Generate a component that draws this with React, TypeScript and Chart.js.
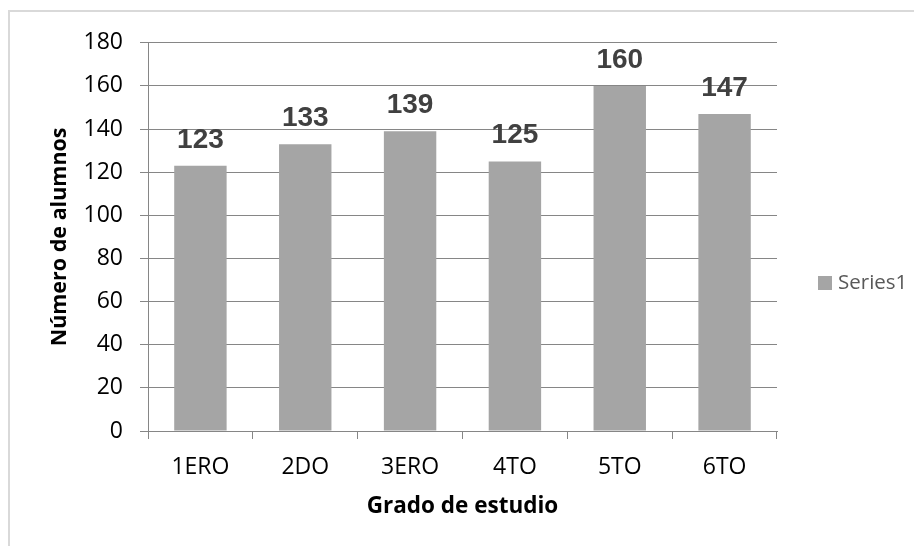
import React, { useEffect, useRef } from 'react';
import { Chart, registerables } from 'chart.js';

Chart.register(...registerables);

const categories = ['1ERO', '2DO', '3ERO', '4TO', '5TO', '6TO'];
const series1 = [123, 133, 139, 125, 160, 147];
const seriesName = 'Series1';
const yMin = 0;
const yMax = 180;
const yStep = 20;
const xTitle = 'Grado de estudio';
const yTitle = 'Número de alumnos';

const GRID = '#868686';
const BAR = '#A5A5A5';

const valueLabels = {
  id: 'valueLabels',
  afterDatasetsDraw(chart: any) {
    const ctx = chart.ctx;
    chart.data.datasets.forEach((ds: any, i: number) => {
      const meta = chart.getDatasetMeta(i);
      meta.data.forEach((bar: any, j: number) => {
        ctx.save();
        ctx.font = 'bold 28px "Liberation Sans", Arial, sans-serif';
        ctx.fillStyle = '#404040';
        ctx.textAlign = 'center';
        ctx.textBaseline = 'alphabetic';
        ctx.fillText(String(ds.data[j]), bar.x, bar.y - 18);
        ctx.restore();
      });
    });
  },
};

const sideLegend = {
  id: 'sideLegend',
  afterDraw(chart: any) {
    const ctx = chart.ctx;
    const ds = chart.data.datasets[0];
    const x = chart.chartArea.right + 41;
    const cy = 271;
    ctx.save();
    ctx.fillStyle = ds.backgroundColor;
    ctx.fillRect(x, cy - 7, 14, 14);
    ctx.font = '20.5px "Open Sans", sans-serif';
    ctx.fillStyle = '#595959';
    ctx.textAlign = 'left';
    ctx.textBaseline = 'middle';
    ctx.fillText(ds.label, x + 20, cy);
    ctx.restore();
  },
};

export default function App() {
  const ref = useRef<HTMLCanvasElement | null>(null);

  useEffect(() => {
    document.documentElement.style.overflow = 'hidden';
    document.body.style.overflow = 'hidden';
    const canvas = ref.current;
    if (!canvas) return;
    const chart = new Chart(canvas, {
      type: 'bar',
      data: {
        labels: categories,
        datasets: [
          {
            label: seriesName,
            data: series1,
            backgroundColor: BAR,
            categoryPercentage: 0.5,
            barPercentage: 1,
          },
        ],
      },
      options: {
        responsive: false,
        animation: false,
        devicePixelRatio: 1,
        layout: { padding: { top: 28, right: 145, left: 0, bottom: 0 } },
        plugins: {
          legend: { display: false },
          tooltip: { enabled: false },
        },
        scales: {
          x: {
            grid: {
              drawOnChartArea: false,
              drawTicks: true,
              tickLength: 8,
              color: GRID,
              offset: true,
            },
            border: { display: true, color: GRID },
            ticks: {
              color: '#000',
              padding: 15,
              font: { family: '"Open Sans", sans-serif', size: 23 },
            },
            title: {
              display: true,
              text: xTitle,
              color: '#000',
              font: { family: '"Open Sans", sans-serif', size: 22.5, weight: 'bold' },
              padding: { top: 0, bottom: 26 },
            },
            afterFit(scale: any) {
              scale.height = 115;
            },
          },
          y: {
            min: yMin,
            max: yMax,
            grid: {
              color: GRID,
              tickLength: 8,
              drawTicks: true,
            },
            border: { display: true, color: GRID },
            ticks: {
              stepSize: yStep,
              color: '#000',
              padding: 17,
              font: { family: '"Open Sans", sans-serif', size: 23 },
            },
            title: {
              display: true,
              text: yTitle,
              color: '#000',
              font: { family: '"Open Sans", sans-serif', size: 21.5, weight: 'bold' },
              padding: { top: 37, bottom: 0 },
            },
            afterFit(scale: any) {
              scale.width = 138;
            },
          },
        },
      },
      plugins: [valueLabels, sideLegend],
    });
    return () => chart.destroy();
  }, []);

  return (
    <div
      style={{
        marginTop: 2,
        borderTop: '2px solid #D9D9D9',
        borderLeft: '2px solid #D9D9D9',
        width: 912,
        height: 534,
        background: '#fff',
      }}
    >
      <canvas ref={ref} width={912} height={534} style={{ display: 'block' }} />
    </div>
  );
}
